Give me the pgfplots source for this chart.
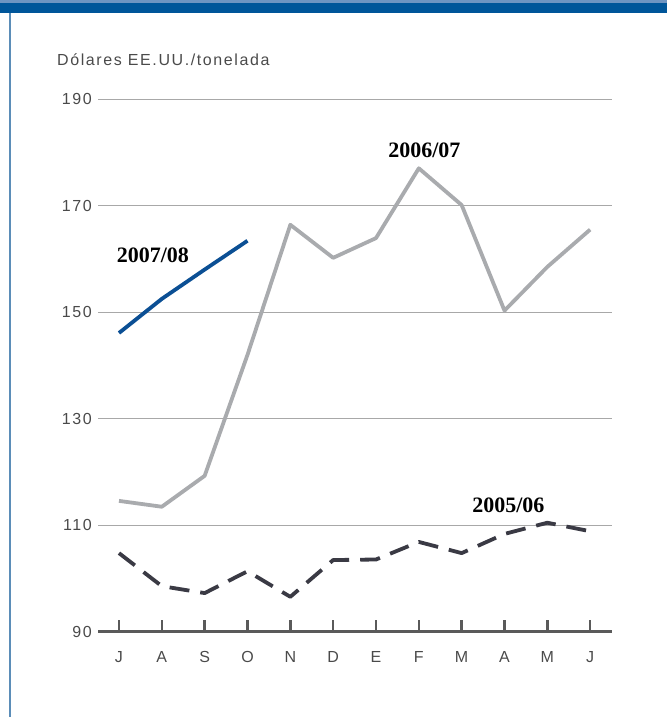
\documentclass[border=0pt]{standalone}
\usepackage{fontspec}
\setmainfont{Liberation Sans}
\newfontfamily\lblfont[LetterSpace=10]{Liberation Sans}
\newfontfamily\serfont{Liberation Serif}
\usepackage{pgfplots}
\pgfplotsset{compat=1.18}
\definecolor{frameblue}{HTML}{00569A}
\definecolor{framelight}{HTML}{6F95C2}
\definecolor{frameedge}{HTML}{5B8DB8}
\definecolor{txtgray}{HTML}{4A4A4A}
\definecolor{gridgray}{HTML}{A8A8A8}
\definecolor{axisgray}{HTML}{5A5A5A}
\definecolor{s0607}{HTML}{A9ABAE}
\definecolor{s0708}{HTML}{0B4F94}
\definecolor{s0506}{HTML}{3A3A44}

\begin{document}
\begin{tikzpicture}[x=1pt,y=1pt]
\path[use as bounding box] (0,0) rectangle (667,717);
% frame: band on top, thin rule on the left
\fill[framelight] (0,714) rectangle (667,717);
\fill[frameblue] (0,704) rectangle (667,714);
\fill[frameedge] (8.5,0) rectangle (10.5,704);
\node[anchor=base west, inner sep=0pt, text=txtgray,
  font=\lblfont\fontsize{16}{18}\selectfont] at (57,651) {Dólares EE.UU./tonelada};

\begin{axis}[
  at={(98pt,85pt)}, anchor=south west,
  scale only axis, width=514pt, height=533pt,
  xmin=-0.49, xmax=11.51, ymin=90, ymax=190,
  axis x line*=bottom, axis y line*=left,
  y axis line style={draw=none},
  x axis line style={draw=axisgray, line width=3pt},
  xtick={0,...,11},
  xticklabels={J,A,S,O,N,D,E,F,M,A,M,J},
  ytick={90,110,...,190},
  tick align=inside,
  major tick length=12pt,
  xtick style={draw=axisgray, line width=2.5pt},
  ytick style={draw=none},
  ymajorgrids, grid style={gridgray, line width=0.8pt},
  tick label style={font=\lblfont\fontsize{16}{18}\selectfont, text=txtgray},
  /pgf/number format/assume math mode=true,
  yticklabel style={anchor=east, inner sep=0pt, xshift=-6pt},
  xticklabel style={anchor=north, inner sep=0pt, yshift=-19pt},
  clip=false,
]
% 2005/06
\addplot[s0506, line width=3.8pt, dash pattern=on 20pt off 11pt, line join=round] coordinates {
  (0,104.8) (1,98.6) (2,97.3) (3,101.4) (4,96.6) (5,103.5)
  (6,103.6) (7,106.9) (8,104.8) (9,108.4) (10,110.5) (11,108.9)};
% 2006/07
\addplot[s0607, line width=3.8pt, line join=round] coordinates {
  (0,114.6) (1,113.5) (2,119.3) (3,142) (4,166.4) (5,160.2)
  (6,163.9) (7,177) (8,170.1) (9,150.3) (10,158.5) (11,165.5)};
% 2007/08
\addplot[s0708, line width=3.8pt, line join=round] coordinates {
  (0,146.1) (1,152.5) (2,158) (3,163.4)};

\node[font=\serfont\bfseries\fontsize{22}{24}\selectfont, inner sep=0pt] at (axis cs:0.79,160.6) {2007/08};
\node[font=\serfont\bfseries\fontsize{22}{24}\selectfont, inner sep=0pt] at (axis cs:7.13,180.3) {2006/07};
\node[font=\serfont\bfseries\fontsize{22}{24}\selectfont, inner sep=0pt] at (axis cs:9.09,113.7) {2005/06};
\end{axis}
\end{tikzpicture}
\end{document}
